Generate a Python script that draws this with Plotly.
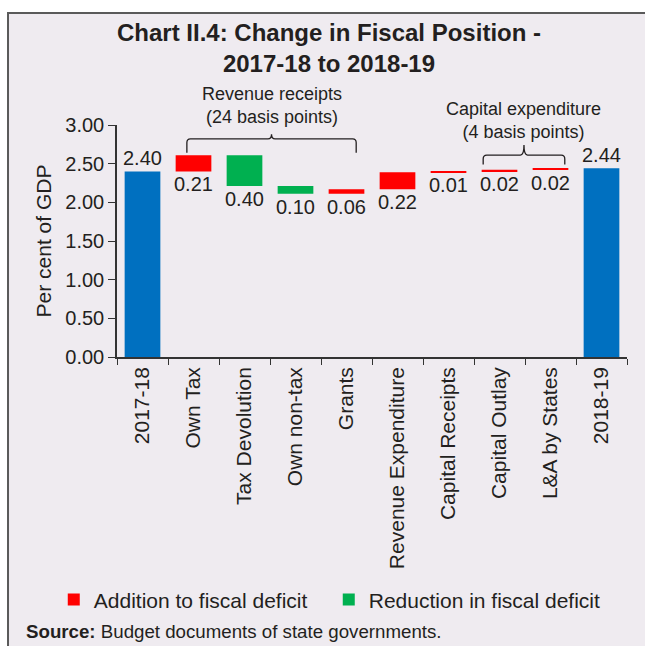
import plotly.graph_objects as go

# ---- data (per cent of GDP) ----
categories = ["2017-18", "Own Tax", "Tax Devolution", "Own non-tax", "Grants",
              "Revenue Expenditure", "Capital Receipts", "Capital Outlay",
              "L&A by States", "2018-19"]
changes = [2.40, 0.21, -0.40, -0.10, 0.06, 0.22, 0.01, 0.02, 0.02, 2.44]
measures = ["total", "relative", "relative", "relative", "relative",
            "relative", "relative", "relative", "relative", "total"]

groups = [
    {"label": "Revenue receipts<br>(24 basis points)", "first": 1, "last": 4},
    {"label": "Capital expenditure<br>(4 basis points)", "first": 7, "last": 8},
]

BLUE, RED, GREEN = "#0070C0", "#FF0000", "#00B050"
INK = "#231F20"
BG = "#EFEBF0"
FONT = "Liberation Sans, Arial, Helvetica, sans-serif"

# ---- waterfall geometry from the data ----
bases, heights, kinds = [], [], []
level = 0.0
for m, v in zip(measures, changes):
    if m == "total":
        bases.append(0.0)
        heights.append(v)
        kinds.append("total")
        level = v
    else:
        start, end = level, level + v
        bases.append(min(start, end))
        heights.append(abs(v))
        kinds.append("add" if v > 0 else "cut")
        level = end


def pick(kind):
    ys = [h if k == kind else None for h, k in zip(heights, kinds)]
    bs = [b if k == kind else None for b, k in zip(bases, kinds)]
    return ys, bs


fig = go.Figure()
for kind, color, name, show in [("total", BLUE, "Total", False),
                                ("add", RED, "Addition to fiscal deficit", True),
                                ("cut", GREEN, "Reduction in fiscal deficit", True)]:
    ys, bs = pick(kind)
    fig.add_trace(go.Bar(x=categories, y=ys, base=bs, name=name,
                         marker=dict(color=color, line=dict(width=0)),
                         width=0.7, showlegend=show))

# value labels: totals above, changes below their bars
annotations = []
for cat, v, b, h, k in zip(categories, changes, bases, heights, kinds):
    top = k == "total"
    annotations.append(dict(x=cat, y=b + h if top else b, text=f"{abs(v):.2f}",
                            showarrow=False, yanchor="bottom" if top else "top",
                            xref="x", yref="y",
                            font=dict(size=20, color=INK, family=FONT)))

# group braces (axis units) and captions (caption height in plot fractions)
shapes = []
brace_dims = [
    # x0 offset, x1 offset, leg bottom, bar level, tip, caption y
    (-0.13, 0.19, 2.64, 2.82, 2.88, 1.084),
    (-0.32, 0.28, 2.49, 2.61, 2.74, 1.019),
]
for g, (dx0, dx1, yl, yb, yt, ycap) in zip(groups, brace_dims):
    x0, x1 = g["first"] + dx0, g["last"] + dx1
    xc = (x0 + x1) / 2
    rx, ry = 0.07, 0.05
    path = (f"M {x0},{yl} L {x0},{yb - ry} Q {x0},{yb} {x0 + rx},{yb} "
            f"L {xc - rx},{yb} Q {xc},{yb} {xc},{yt} Q {xc},{yb} {xc + rx},{yb} "
            f"L {x1 - rx},{yb} Q {x1},{yb} {x1},{yb - ry} L {x1},{yl}")
    shapes.append(dict(type="path", path=path, xref="x", yref="y",
                       line=dict(color=INK, width=1.3)))
    annotations.append(dict(x=xc, y=ycap, text=g["label"], showarrow=False,
                            xref="x", yref="paper", yanchor="middle",
                            font=dict(size=18, color=INK, family=FONT)))

# outer frame of the exhibit
shapes.insert(0, dict(type="rect", xref="paper", yref="paper",
                      x0=-0.2137, x1=1.06, y0=-1.3, y1=1.483,
                      fillcolor=BG, line=dict(color="#5A5A5A", width=2),
                      layer="below"))

annotations.append(dict(text="<b>Source:</b> Budget documents of state governments.",
                        xref="paper", yref="paper", x=-0.182, y=-1.185,
                        xanchor="left", yanchor="middle", showarrow=False,
                        font=dict(size=18.7, color=INK, family=FONT)))

fig.update_layout(
    width=645, height=646,
    margin=dict(l=117, r=18, t=125, b=289, autoexpand=False),
    paper_bgcolor="white",
    plot_bgcolor="rgba(0,0,0,0)",
    barmode="overlay",
    font=dict(family=FONT, color=INK),
    title=dict(text="<b>Chart II.4: Change in Fiscal Position -<br>2017-18 to 2018-19</b>",
               x=329 / 645, xanchor="center", xref="container",
               y=1 - 41 / 646, yanchor="middle", yref="container",
               font=dict(size=24, color=INK, family=FONT)),
    xaxis=dict(type="category", tickson="boundaries", ticks="outside", ticklen=6,
               tickcolor="#333", showline=True, linecolor="#333", linewidth=1.5,
               tickangle=-90, tickfont=dict(size=21, color=INK, family=FONT),
               showgrid=False, range=[-0.5, 9.5]),
    yaxis=dict(range=[0, 3], dtick=0.5, tickformat=".2f", ticks="outside",
               ticklen=7, tickcolor="#333", showline=True, linecolor="#333",
               linewidth=1.5, showgrid=False, zeroline=False,
               tickfont=dict(size=20, color=INK, family=FONT),
               title=dict(text="Per cent of GDP", standoff=8,
                          font=dict(size=21, color=INK, family=FONT))),
    legend=dict(orientation="h", x=-0.124, xanchor="left", y=-1.047, yanchor="middle",
                font=dict(size=21, color=INK, family=FONT), bgcolor="rgba(0,0,0,0)",
                entrywidth=230, traceorder="normal"),
    shapes=shapes,
    annotations=annotations,
)

fig.write_html("out.html")
